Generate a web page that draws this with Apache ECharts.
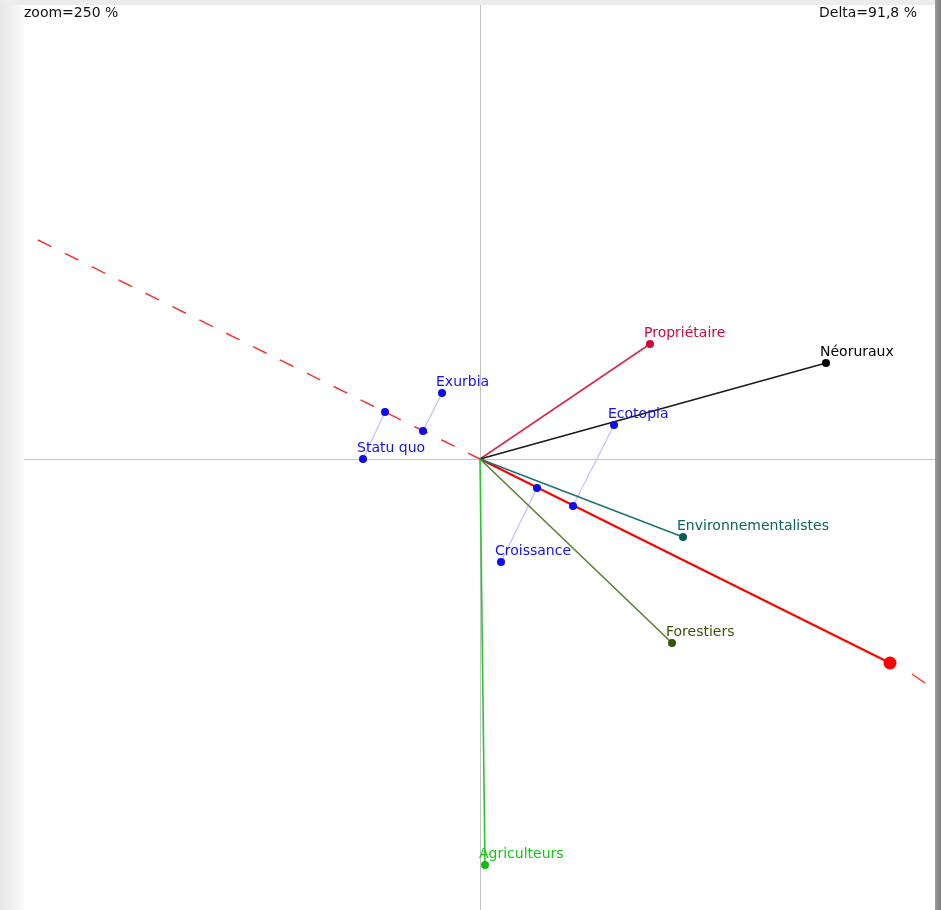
<!DOCTYPE html>
<html>
<head>
<meta charset="utf-8">
<script src="https://cdn.jsdelivr.net/npm/echarts@6/dist/echarts.min.js"></script>
<style>
  html, body { margin: 0; padding: 0; width: 941px; height: 910px; overflow: hidden; }
  body { background: linear-gradient(to right, #e6e6e6 0px, #fafafa 24px); position: relative; }
  #topbar { position: absolute; left: 0; top: 0; width: 941px; height: 5px; background: #ececec; }
  #rightbar { position: absolute; left: 935px; top: 0; width: 6px; height: 910px; background: linear-gradient(to right, #9a9a9a, #7c7c7c); }
  #chart { position: absolute; left: 24px; top: 5px; width: 911px; height: 905px; background: #fff; }
</style>
</head>
<body>
<div id="topbar"></div>
<div id="rightbar"></div>
<div id="chart"></div>
<script>
  // acteurs (vecteurs depuis l'origine)
  const actors = ['Propriétaire', 'Néoruraux', 'Environnementalistes', 'Forestiers', 'Agriculteurs']
  const actorPoints = [[1.70, 1.15], [3.46, 0.96], [2.03, -0.78], [1.92, -1.84], [0.05, -4.06]]
  const actorLineColors = ['#d8284e', '#1a1a1a', '#1f7372', '#5a8032', '#22cc22']
  const actorLabelColors = ['#d0083c', '#000000', '#0c6461', '#365408', '#10c810']
  const actorDotColors = ['#d0083c', '#000000', '#0c5c58', '#345412', '#10bc10']

  // scénarios et leurs projections sur l'axe rouge
  const scenarios = ['Exurbia', 'Statu quo', 'Ecotopia', 'Croissance']
  const scenarioPoints = [[-0.38, 0.66], [-1.17, 0.0], [1.34, 0.34], [0.21, -1.03]]
  const scenarioProj = [[-0.57, 0.28], [-0.95, 0.47], [0.93, -0.47], [0.57, -0.29]]

  // axe rouge : partie pleine + prolongements pointillés
  const axisDashLeft = [[-4.42, 2.19], [0, 0]]
  const axisDashRight = [[4.32, -2.15], [4.45, -2.24]]
  const axisEnd = [4.10, -2.04]

  const zoomText = 'zoom=250 %'
  const deltaText = 'Delta=91,8 %'

  const FONT = 'DejaVu Sans'

  let series = []

  series.push({
    type: 'line', data: axisDashLeft, symbol: 'none', silent: true, z: 2,
    lineStyle: { color: '#ff3030', width: 1.5, type: [15, 15] }
  })
  series.push({
    type: 'line', data: axisDashRight, symbol: 'none', silent: true, z: 2,
    lineStyle: { color: '#ff3030', width: 1.5 }
  })
  series.push({
    type: 'line', data: [[0, 0], axisEnd], symbol: 'none', silent: true, z: 3,
    lineStyle: { color: '#ff0000', width: 2 }
  })

  actors.forEach((name, i) => {
    series.push({
      type: 'line', data: [[0, 0], actorPoints[i]], symbol: 'none', silent: true, z: 3,
      lineStyle: { color: actorLineColors[i], width: 1.6 }
    })
  })

  scenarios.forEach((name, i) => {
    series.push({
      type: 'line', data: [scenarioPoints[i], scenarioProj[i]], symbol: 'none', silent: true, z: 2,
      lineStyle: { color: '#c0c0ff', width: 1.2 }
    })
  })

  const labelStyle = (color) => ({
    show: true, position: 'inside', align: 'left', verticalAlign: 'middle',
    offset: [-6, -11], color: color, fontFamily: FONT, fontSize: 14,
    formatter: (p) => p.data.name
  })

  series.push({
    type: 'scatter', symbolSize: 8, z: 5,
    data: actors.map((name, i) => ({
      name: name, value: actorPoints[i],
      itemStyle: { color: actorDotColors[i], opacity: 1 },
      label: labelStyle(actorLabelColors[i])
    }))
  })

  series.push({
    type: 'scatter', symbolSize: 8, z: 5,
    itemStyle: { color: '#0c0cf0', opacity: 1 },
    data: scenarios.map((name, i) => ({ name: name, value: scenarioPoints[i], label: labelStyle('#1010ff') }))
  })

  series.push({
    type: 'scatter', symbolSize: 8, z: 5,
    itemStyle: { color: '#0c0cf0', opacity: 1 },
    data: scenarioProj
  })

  series.push({
    type: 'scatter', symbolSize: 13, z: 5,
    itemStyle: { color: '#ff0000', opacity: 1 },
    data: [axisEnd]
  })

  const axisCommon = {
    type: 'value',
    axisLine: { show: true, onZero: true, lineStyle: { color: '#c4c4c4', width: 1 } },
    axisTick: { show: false },
    axisLabel: { show: false },
    splitLine: { show: false }
  }

  const option = {
    animation: false,
    grid: { left: 0, right: 0, top: 0, bottom: 0 },
    xAxis: Object.assign({ min: -4.56, max: 4.55 }, axisCommon),
    yAxis: Object.assign({ min: -4.51, max: 4.54 }, axisCommon),
    graphic: [
      { type: 'text', left: 0, top: 1, style: { text: zoomText, fill: '#111', font: '14px "DejaVu Sans"' } },
      { type: 'text', right: 18, top: 1, style: { text: deltaText, fill: '#111', font: '14px "DejaVu Sans"' } }
    ],
    series: series
  }

  let myChart = echarts.init(document.getElementById('chart'))
  myChart.setOption(option)
</script>
</body>
</html>
